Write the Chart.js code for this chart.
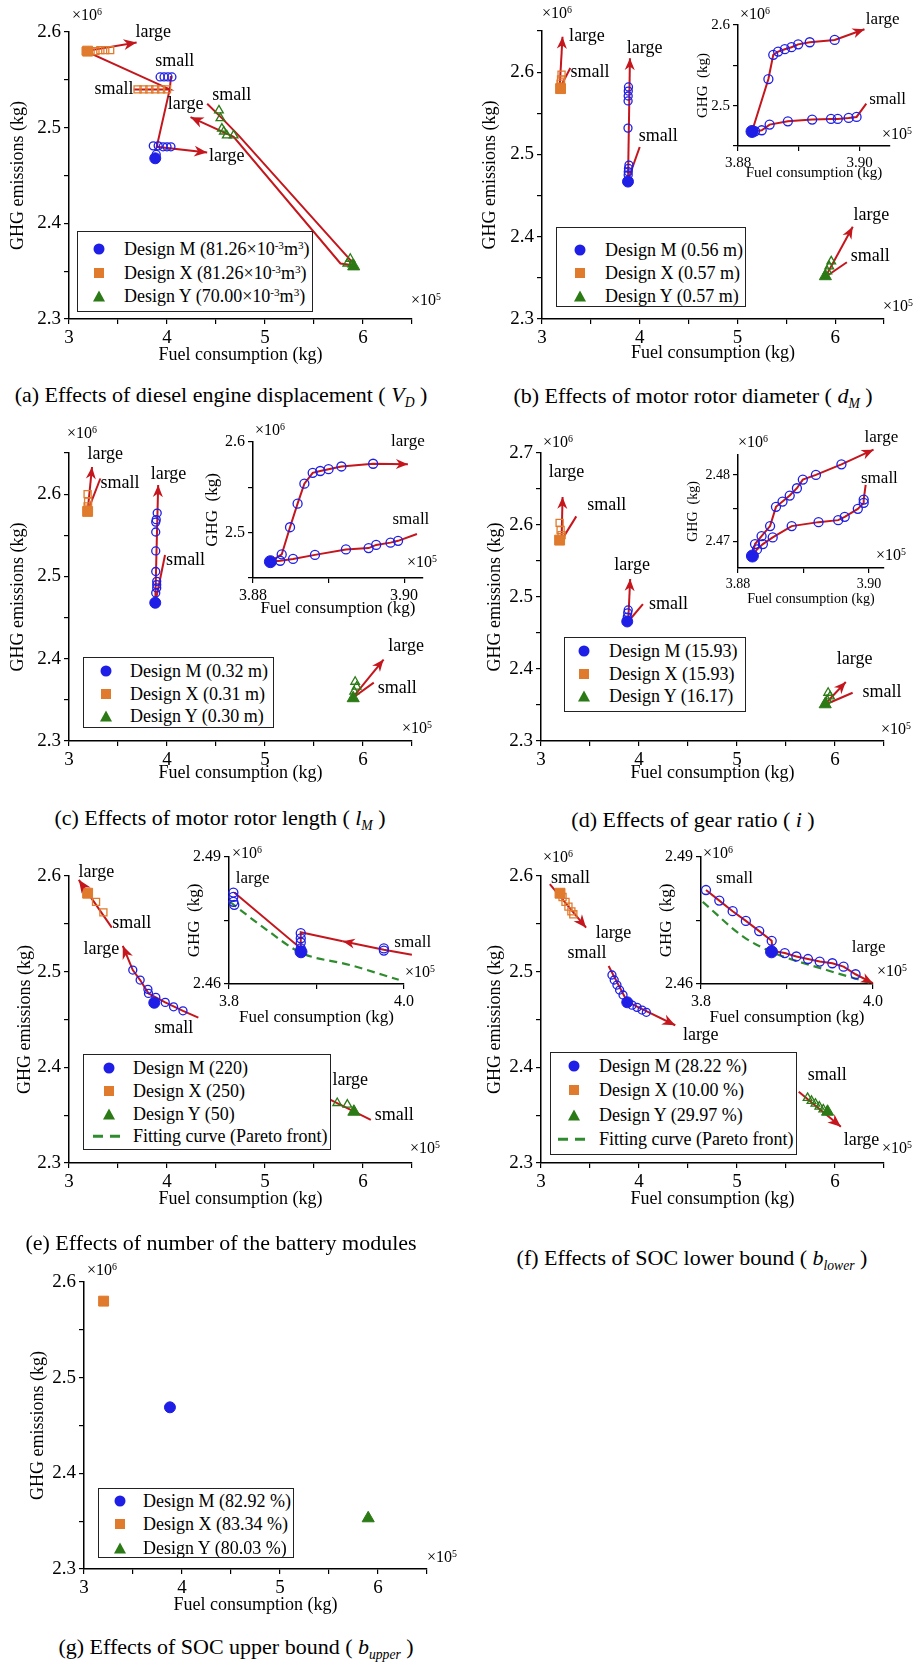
<!DOCTYPE html>
<html>
<head>
<meta charset="utf-8">
<title>GHG emissions vs fuel consumption</title>
<script src="https://cdn.jsdelivr.net/npm/chart.js@4.4.1/dist/chart.umd.min.js"></script>
<style>
  body { margin: 0; background: #fff; }
  #page { position: relative; width: 921px; height: 1662px; overflow: hidden; background: #fff;
          font-family: "Liberation Serif", "Times New Roman", serif; color: #000; }
  canvas { position: absolute; }
  .cap { position: absolute; font-size: 22px; white-space: nowrap; transform: translate(-50%, -50%); line-height: 1; }
  .mul { position: absolute; font-size: 16px; white-space: nowrap; transform: translateY(-50%); line-height: 1; }
  .leg { position: absolute; box-sizing: border-box; border: 1.6px solid #222; background: #fff; }
  .mk { position: absolute; transform: translate(-50%, -50%); }
  .lt { position: absolute; font-size: 18px; white-space: nowrap; transform: translateY(-50%); line-height: 1; }
  sup { font-size: 0.62em; vertical-align: 0.5em; line-height: 0; }
  sub { font-size: 0.62em; vertical-align: -0.35em; line-height: 0; }
  .mkM { width: 11px; height: 11px; border-radius: 50%; background: #1e1ee6; }
  .mkX { width: 10px; height: 10px; background: #e07a2c; }
  .mkY { width: 0; height: 0; border-left: 6.5px solid transparent; border-right: 6.5px solid transparent; border-bottom: 11px solid #2b7a16; }
  .mkF { width: 32px; height: 2.5px; background: repeating-linear-gradient(90deg, #2e8b2e 0 10px, transparent 10px 17px); }
</style>
</head>
<body>
<div id="page"></div>
<script>
// fuel in 1e5 kg, GHG in 1e6 kg. base points are [M, X, Y]

// (a) engine displacement
const aBase = [[3.88, 2.468], [3.19, 2.580], [5.905, 2.355]];
const aSweepM = [[3.93, 2.553], [3.97, 2.553], [4.01, 2.553], [4.05, 2.553], [3.86, 2.481], [3.91, 2.481], [3.96, 2.480], [4.00, 2.480], [4.04, 2.480], [3.89, 2.472]];
const aSweepX = [[3.17, 2.580], [3.22, 2.580], [3.27, 2.580], [3.32, 2.581], [3.37, 2.581], [3.42, 2.581], [3.70, 2.540], [3.76, 2.540], [3.82, 2.540], [3.88, 2.540], [3.94, 2.540], [4.00, 2.540]];
const aSweepY = [[4.53, 2.518], [4.545, 2.510], [4.56, 2.499], [4.58, 2.496], [4.61, 2.492], [4.68, 2.492], [5.84, 2.358], [5.87, 2.363], [5.89, 2.357]];
const aArrows = [
  [[3.66, 2.540], [4.03, 2.540], [3.17, 2.580], [3.69, 2.589]],
  [[4.04, 2.554], [4.03, 2.541], [3.895, 2.480], [4.41, 2.474]],
  [[4.41, 2.525], [4.56, 2.510], [4.73, 2.492], [5.92, 2.356], [5.77, 2.358], [4.68, 2.4905], [4.24, 2.511]]
];
const aNotes = [['large', 3.86, 2.600], ['small', 3.46, 2.540], ['small', 4.08, 2.569], ['large', 4.19, 2.524], ['small', 4.66, 2.534], ['large', 4.61, 2.470]];
const aLegend = ['Design M (81.26×10<sup>-3</sup>m<sup>3</sup>)', 'Design X (81.26×10<sup>-3</sup>m<sup>3</sup>)', 'Design Y (70.00×10<sup>-3</sup>m<sup>3</sup>)'];

// (b) rotor diameter
const bBase = [[3.88, 2.467], [3.19, 2.580], [5.90, 2.352]];
const bSweepM = [[3.885, 2.582], [3.883, 2.577], [3.882, 2.571], [3.881, 2.565], [3.88, 2.532], [3.89, 2.487], [3.885, 2.483], [3.883, 2.479], [3.882, 2.475]];
const bSweepX = [[3.19, 2.586], [3.195, 2.591], [3.20, 2.597]];
const bSweepY = [[5.92, 2.358], [5.94, 2.364], [5.96, 2.370]];
const bArrows = [[[3.18, 2.580], [3.21, 2.643]], [[3.88, 2.466], [3.90, 2.617]], [[5.90, 2.351], [6.18, 2.412]]];
const bLines = [[[3.18, 2.580], [3.29, 2.605]], [[3.88, 2.469], [4.00, 2.509]], [[5.90, 2.351], [6.12, 2.369]]];
const bNotes = [['large', 3.46, 2.643], ['small', 3.49, 2.600], ['large', 4.05, 2.629], ['small', 4.19, 2.522], ['large', 6.37, 2.426], ['small', 6.36, 2.376]];
const bInBase = [[3.8823, 2.468]];
const bInUp = [[3.8823, 2.468], [3.885, 2.533], [3.8858, 2.563], [3.8866, 2.567], [3.8877, 2.570], [3.8888, 2.5725], [3.8899, 2.576], [3.8918, 2.5786], [3.8959, 2.5815], [3.9008, 2.5947]];
const bInLow = [[3.8823, 2.468], [3.8828, 2.4683], [3.8839, 2.4695], [3.8852, 2.4765], [3.8882, 2.4806], [3.8922, 2.4827], [3.8953, 2.4836], [3.8964, 2.4836], [3.8982, 2.4848], [3.8995, 2.486], [3.9011, 2.5025]];
const bInNotes = [['large', 3.9038, 2.607], ['small', 3.9046, 2.507]];
const bLegend = ['Design M (0.56 m)', 'Design X (0.57 m)', 'Design Y (0.57 m)'];

// (c) rotor length
const cBase = [[3.88, 2.468], [3.19, 2.579], [5.90, 2.352]];
const cSweepM = [[3.90, 2.577], [3.89, 2.569], [3.885, 2.566], [3.885, 2.554], [3.885, 2.531], [3.885, 2.506], [3.895, 2.494], [3.895, 2.490], [3.895, 2.486], [3.885, 2.480]];
const cSweepX = [[3.19, 2.600], [3.195, 2.591], [3.19, 2.585]];
const cSweepY = [[5.92, 2.372], [5.935, 2.366], [5.91, 2.360]];
const cArrows = [[[3.19, 2.579], [3.235, 2.633]], [[3.88, 2.468], [3.91, 2.611]], [[5.89, 2.352], [6.21, 2.399]]];
const cLines = [[[3.19, 2.579], [3.32, 2.619]], [[3.88, 2.468], [3.98, 2.526]], [[5.89, 2.352], [6.11, 2.371]]];
const cNotes = [['large', 3.37, 2.648], ['small', 3.52, 2.6135], ['large', 4.015, 2.624], ['small', 4.19, 2.520], ['large', 6.44, 2.415], ['small', 6.35, 2.364]];
const cInBase = [[3.8823, 2.468]];
const cInUp = [[3.8823, 2.468], [3.8838, 2.476], [3.8849, 2.506], [3.8859, 2.532], [3.8868, 2.554], [3.8879, 2.566], [3.8889, 2.568], [3.890, 2.570], [3.8917, 2.573], [3.8959, 2.576], [3.9005, 2.5755]];
const cInLow = [[3.8823, 2.468], [3.8836, 2.469], [3.8853, 2.471], [3.8882, 2.4755], [3.8923, 2.4815], [3.8953, 2.483], [3.8963, 2.4865], [3.8982, 2.489], [3.8992, 2.491], [3.9017, 2.4985]];
const cInNotes = [['large', 3.9005, 2.600], ['small', 3.9009, 2.514]];
const cLegend = ['Design M (0.32 m)', 'Design X (0.31 m)', 'Design Y (0.30 m)'];

// (d) gear ratio
const dBase = [[3.88, 2.466], [3.19, 2.579], [5.90, 2.351]];
const dSweepM = [[3.885, 2.478], [3.89, 2.482], [3.88, 2.472]];
const dSweepX = [[3.19, 2.603], [3.20, 2.593], [3.21, 2.586]];
const dSweepY = [[5.93, 2.367], [5.95, 2.362], [5.92, 2.357]];
const dArrows = [[[3.21, 2.579], [3.22, 2.639]], [[3.89, 2.466], [3.91, 2.525]], [[5.89, 2.350], [6.11, 2.382]]];
const dLines = [[[3.21, 2.579], [3.36, 2.612]], [[3.89, 2.466], [4.04, 2.490]], [[5.89, 2.350], [6.18, 2.367]]];
const dNotes = [['large', 3.26, 2.673], ['small', 3.67, 2.628], ['large', 3.93, 2.544], ['small', 4.30, 2.490], ['large', 6.20, 2.414], ['small', 6.48, 2.368]];
const dInBase = [[3.8822, 2.4678]];
const dInUp = [[3.8822, 2.4678], [3.8826, 2.4696], [3.8836, 2.4708], [3.8849, 2.4723], [3.8858, 2.4752], [3.8868, 2.4760], [3.8879, 2.4769], [3.8890, 2.4780], [3.8899, 2.4793], [3.8919, 2.4800], [3.8958, 2.4816], [3.9007, 2.4838]];
const dInLow = [[3.8822, 2.4678], [3.8829, 2.4688], [3.8838, 2.4696], [3.8853, 2.4706], [3.8882, 2.4723], [3.8923, 2.4729], [3.8953, 2.4732], [3.8963, 2.4737], [3.8983, 2.4749], [3.8992, 2.4758], [3.8992, 2.4763], [3.8995, 2.4785]];
const dInNotes = [['large', 3.9019, 2.4857], ['small', 3.9016, 2.4794]];
const dLegend = ['Design M (15.93)', 'Design X (15.93)', 'Design Y (16.17)'];

// (e) battery modules
const eBase = [[3.87, 2.4675], [3.19, 2.582], [5.907, 2.3536]];
const eSweepM = [[3.651, 2.5017], [3.726, 2.4912], [3.805, 2.4815], [3.811, 2.4773], [3.886, 2.4731], [3.982, 2.4679], [4.067, 2.4633], [4.163, 2.4591]];
const eSweepX = [[3.276, 2.573], [3.351, 2.562]];
const eSweepY = [[5.737, 2.3627], [5.84, 2.361]];
const eArrows = [
  [[3.437, 2.546], [3.10, 2.596]],
  [[4.32, 2.452], [4.163, 2.4591], [3.982, 2.4679], [3.886, 2.4731], [3.811, 2.4773], [3.726, 2.4912], [3.651, 2.5017], [3.549, 2.527]],
  [[6.08, 2.345], [5.50, 2.3745]]
];
const eNotes = [['large', 3.28, 2.604], ['small', 3.64, 2.551], ['large', 3.33, 2.523], ['small', 4.07, 2.441], ['large', 5.87, 2.387], ['small', 6.32, 2.350]];
const eInBase = [[3.8823, 2.4676]];
const eInMarks = [[3.805, 2.4816], [3.805, 2.4806], [3.805, 2.4794], [3.806, 2.4787], [3.882, 2.4720], [3.882, 2.4708], [3.882, 2.4698], [3.882, 2.4684], [3.977, 2.4684], [3.977, 2.4679]];
const eInArrow = [[4.009, 2.4669], [3.977, 2.4681], [3.93, 2.4701]];
const eInPath = [[3.93, 2.4701], [3.882, 2.4722], [3.882, 2.4684], [3.806, 2.4816]];
const eInFit = [[3.801, 2.4794], [3.843, 2.4728], [3.882, 2.4674], [3.938, 2.4645], [3.994, 2.4610]];
const eInNotes = [['large', 3.827, 2.485], ['small', 4.01, 2.4697]];
const eLegend = ['Design M (220)', 'Design X (250)', 'Design Y (50)', 'Fitting curve (Pareto front)'];

// (f) SOC lower bound
const fBase = [[3.88, 2.468], [3.194, 2.582], [5.924, 2.3536]];
const fSweepM = [[3.724, 2.4965], [3.747, 2.4913], [3.775, 2.486], [3.802, 2.4808], [3.837, 2.4756], [3.929, 2.465], [3.98, 2.4627], [4.031, 2.4599], [4.075, 2.4575]];
const fSweepX = [[3.22, 2.578], [3.25, 2.573], [3.28, 2.568], [3.31, 2.563], [3.33, 2.560]];
const fSweepY = [[5.72, 2.368], [5.76, 2.365], [5.80, 2.362], [5.84, 2.359], [5.88, 2.356]];
const fArrows = [[[3.09, 2.5915], [3.46, 2.546]], [[3.69, 2.506], [3.88, 2.4685], [4.37, 2.444]], [[5.63, 2.3745], [6.06, 2.338]]];
const fNotes = [['small', 3.30, 2.5975], ['large', 3.74, 2.540], ['small', 3.47, 2.519], ['large', 4.63, 2.434], ['small', 5.92, 2.392], ['large', 6.27, 2.324]];
const fInBase = [[3.882, 2.4676]];
const fInMarks = [[3.8058, 2.4822], [3.8213, 2.4797], [3.8368, 2.4772], [3.8522, 2.4749], [3.8677, 2.4725], [3.8822, 2.4702], [3.8974, 2.4673], [3.9109, 2.4665], [3.9244, 2.4659], [3.9380, 2.4653], [3.9527, 2.4649], [3.9658, 2.4641], [3.9797, 2.4623]];
const fInArrow = [[3.8058, 2.4822], [3.8213, 2.4797], [3.8368, 2.4772], [3.8522, 2.4749], [3.8677, 2.4725], [3.8822, 2.4702], [3.8830, 2.4678], [3.8974, 2.4673], [3.9109, 2.4665], [3.9244, 2.4659], [3.9380, 2.4653], [3.9527, 2.4649], [3.9658, 2.4641], [3.9797, 2.4623], [3.9999, 2.4602]];
const fInFit = [[3.802, 2.4794], [3.849, 2.4712], [3.882, 2.4676], [3.946, 2.4633], [3.996, 2.4603]];
const fInNotes = [['small', 3.839, 2.485], ['large', 3.995, 2.4685]];
const fLegend = ['Design M (28.22 %)', 'Design X (10.00 %)', 'Design Y (29.97 %)', 'Fitting curve (Pareto front)'];

// (g) SOC upper bound
const gBase = [[3.877, 2.469], [3.20, 2.580], [5.90, 2.353]];
const gLegend = ['Design M (82.92 %)', 'Design X (83.34 %)', 'Design Y (80.03 %)'];

// ticks
const XT = [3, 3.5, 4, 4.5, 5, 5.5, 6, 6.5], XL = [3, 4, 5, 6];
const YT26 = [2.3, 2.35, 2.4, 2.45, 2.5, 2.55, 2.6];
const YT265 = [2.3, 2.35, 2.4, 2.45, 2.5, 2.55, 2.6, 2.65];
const YT27 = [2.3, 2.35, 2.4, 2.45, 2.5, 2.55, 2.6, 2.65, 2.7];
const YL = [2.3, 2.4, 2.5, 2.6, 2.7];
const ZXT = [3.88, 3.89, 3.90], ZXL = [3.88, 3.90];
const ZYT = [2.45, 2.5, 2.55, 2.6], ZYL = [2.5, 2.6];
const DYT = [2.47, 2.475, 2.48], DYL = [2.47, 2.48];
const PXT = [3.8, 3.9, 4.0], PXL = [3.8, 4.0];
const PYT = [2.46, 2.475, 2.49], PYL = [2.46, 2.49];

const SERIF = '"Liberation Serif", "Times New Roman", serif';
const BLUE = '#1e1ee6', ORANGE = '#e07a2c', GREEN = '#2b7a16', RED = '#c4161c', FIT = '#2e8b2e';
const page = document.getElementById('page');
const NOTES = new WeakMap();

const notesPlugin = {
  id: 'notes',
  afterDatasetsDraw(chart) {
    const cfg = NOTES.get(chart.canvas);
    const ctx = chart.ctx;
    chart.data.datasets.forEach((ds, i) => {
      if (!ds.arrow) return;
      const el = chart.getDatasetMeta(i).data;
      const a = el[el.length - 2], b = el[el.length - 1];
      const ang = Math.atan2(b.y - a.y, b.x - a.x);
      const len = cfg.head, wid = cfg.head * 0.42;
      const c = Math.cos(ang), s = Math.sin(ang);
      ctx.save();
      ctx.fillStyle = RED;
      ctx.beginPath();
      ctx.moveTo(b.x, b.y);
      ctx.lineTo(b.x - len * c + wid * s, b.y - len * s - wid * c);
      ctx.lineTo(b.x - len * 0.7 * c, b.y - len * 0.7 * s);
      ctx.lineTo(b.x - len * c - wid * s, b.y - len * s + wid * c);
      ctx.closePath();
      ctx.fill();
      ctx.restore();
    });
    ctx.save();
    ctx.font = cfg.size + 'px ' + SERIF;
    ctx.fillStyle = '#000';
    ctx.textAlign = 'center';
    ctx.textBaseline = 'middle';
    cfg.items.forEach(n => {
      ctx.fillText(n[0], chart.scales.x.getPixelForValue(n[1]), chart.scales.y.getPixelForValue(n[2]));
    });
    ctx.restore();
  }
};

function xy(a) { return a.map(p => ({x: p[0], y: p[1]})); }

function marks(a, shape, color, r, solid) {
  return {data: xy(a), showLine: false, clip: false, pointStyle: shape, pointRadius: r,
          pointBorderColor: color, pointBackgroundColor: solid ? color : 'rgba(255,255,255,0)',
          pointBorderWidth: solid ? 1 : 1.3};
}
function redPath(a, head) {
  return {data: xy(a), showLine: true, clip: false, borderColor: RED, borderWidth: 2,
          pointRadius: 0, tension: 0, arrow: head};
}
function fitPath(a) {
  return {data: xy(a), showLine: true, clip: false, borderColor: FIT, borderWidth: 2.2,
          borderDash: [8, 5], pointRadius: 0, cubicInterpolationMode: 'monotone'};
}

function mainSets(base, sm, sx, sy, arrows, lines) {
  return [
    marks([base[0]], 'circle', BLUE, 5.5, true),
    marks([base[1]], 'rect', ORANGE, 7, true),
    marks([base[2]], 'triangle', GREEN, 7, true),
    marks(sm, 'circle', BLUE, 4, false),
    marks(sx, 'rect', ORANGE, 5, false),
    marks(sy, 'triangle', GREEN, 5, false)
  ].concat(arrows.map(a => redPath(a, true)), lines.map(a => redPath(a, false)));
}
function insetSets(base, circles, arrows, lines, fits) {
  return [
    marks(base, 'circle', BLUE, 6, true),
    marks(circles, 'circle', BLUE, 4.5, false)
  ].concat(arrows.map(a => redPath(a, true)), lines.map(a => redPath(a, false)), fits.map(fitPath));
}

function axis(r, fs, title, tfs, tpad, size, horiz) {
  const [min, max, ticks, labels, dec] = r;
  return {
    type: 'linear', min: min, max: max,
    afterBuildTicks: s => { s.ticks = ticks.map(v => ({value: v})); },
    afterFit: s => {
      if (horiz) s.height = size; else s.width = size;
      s.paddingTop = 0; s.paddingBottom = 0; s.paddingLeft = 0; s.paddingRight = 0;
    },
    ticks: {autoSkip: false, maxRotation: 0, padding: 3, color: '#000', font: {family: SERIF, size: fs},
            callback: v => labels.some(l => Math.abs(l - v) < 1e-7) ? v.toFixed(dec) : ''},
    grid: {drawOnChartArea: false, drawTicks: true, tickLength: 5, color: '#000', lineWidth: 1.2},
    border: {color: '#000', width: 1.5},
    title: {display: true, text: title, color: '#000', font: {family: SERIF, size: tfs}, padding: tpad}
  };
}

function plot(o) {
  const [cx, cy, cw, ch] = o.box;
  const [L, T, R, B] = o.area;
  const cv = document.createElement('canvas');
  cv.width = cw; cv.height = ch;
  cv.style.left = cx + 'px'; cv.style.top = cy + 'px';
  cv.style.width = cw + 'px'; cv.style.height = ch + 'px';
  page.appendChild(cv);
  NOTES.set(cv, {items: o.notes, size: o.nfs, head: o.head});
  const half = o.tfs * 0.6;
  return new Chart(cv, {
    type: 'scatter',
    data: {datasets: o.sets},
    plugins: [notesPlugin],
    options: {
      responsive: false, animation: false, devicePixelRatio: 1, events: [],
      layout: {padding: {left: 0, top: T - cy, right: cx + cw - R, bottom: 0}},
      plugins: {legend: {display: false}, tooltip: {enabled: false}},
      scales: {
        x: axis(o.x, o.fs, o.xTitle, o.tfs, {top: 0, bottom: cy + ch - o.xTitleY - half}, cy + ch - B, true),
        y: axis(o.y, o.fs, o.yTitle, o.tfs, {top: o.yTitleX - cx - half, bottom: 0}, L - cx, false)
      }
    }
  });
}

const FUEL = 'Fuel consumption (kg)', GHG = 'GHG emissions (kg)', GHGS = 'GHG  (kg)';

// main panels
plot({box: [0, 0, 460, 372], area: [69, 32, 412, 319], x: [3, 6.5, XT, XL, 0], y: [2.3, 2.6, YT26, YL, 1],
      fs: 19, tfs: 18, xTitle: FUEL, yTitle: GHG, xTitleY: 355, yTitleX: 18,
      sets: mainSets(aBase, aSweepM, aSweepX, aSweepY, aArrows, []), notes: aNotes, nfs: 18, head: 13});
plot({box: [460, 0, 461, 372], area: [542, 31, 884, 319], x: [3, 6.5, XT, XL, 0], y: [2.3, 2.65, YT265, YL, 1],
      fs: 19, tfs: 18, xTitle: FUEL, yTitle: GHG, xTitleY: 353, yTitleX: 490,
      sets: mainSets(bBase, bSweepM, bSweepX, bSweepY, bArrows, bLines), notes: bNotes, nfs: 18, head: 12});
plot({box: [0, 425, 460, 370], area: [69, 453, 412, 741], x: [3, 6.5, XT, XL, 0], y: [2.3, 2.65, YT265, YL, 1],
      fs: 19, tfs: 18, xTitle: FUEL, yTitle: GHG, xTitleY: 773, yTitleX: 18,
      sets: mainSets(cBase, cSweepM, cSweepX, cSweepY, cArrows, cLines), notes: cNotes, nfs: 18, head: 12});
plot({box: [460, 425, 461, 370], area: [541, 453, 884, 741], x: [3, 6.5, XT, XL, 0], y: [2.3, 2.7, YT27, YL, 1],
      fs: 19, tfs: 18, xTitle: FUEL, yTitle: GHG, xTitleY: 773, yTitleX: 495,
      sets: mainSets(dBase, dSweepM, dSweepX, dSweepY, dArrows, dLines), notes: dNotes, nfs: 18, head: 12});
plot({box: [0, 845, 460, 375], area: [69, 876, 412, 1163], x: [3, 6.5, XT, XL, 0], y: [2.3, 2.6, YT26, YL, 1],
      fs: 19, tfs: 18, xTitle: FUEL, yTitle: GHG, xTitleY: 1199, yTitleX: 25,
      sets: mainSets(eBase, eSweepM, eSweepX, eSweepY, eArrows, []), notes: eNotes, nfs: 18, head: 13});
plot({box: [460, 845, 461, 375], area: [541, 876, 884, 1163], x: [3, 6.5, XT, XL, 0], y: [2.3, 2.6, YT26, YL, 1],
      fs: 19, tfs: 18, xTitle: FUEL, yTitle: GHG, xTitleY: 1199, yTitleX: 495,
      sets: mainSets(fBase, fSweepM, fSweepX, fSweepY, fArrows, []), notes: fNotes, nfs: 18, head: 13});
plot({box: [0, 1255, 460, 370], area: [84, 1282, 427, 1569], x: [3, 6.5, XT, XL, 0], y: [2.3, 2.6, YT26, YL, 1],
      fs: 19, tfs: 18, xTitle: FUEL, yTitle: GHG, xTitleY: 1605, yTitleX: 38,
      sets: mainSets(gBase, [], [], [], [], []), notes: [], nfs: 18, head: 13});

// insets
plot({box: [680, 0, 241, 185], area: [738, 25, 890, 146], x: [3.88, 3.905, ZXT, ZXL, 2], y: [2.45, 2.6, ZYT, ZYL, 1],
      fs: 15, tfs: 15, xTitle: FUEL, yTitle: GHGS, xTitleY: 173, yTitleX: 703,
      sets: insetSets(bInBase, bInUp.slice(1, -1).concat(bInLow.slice(1, -1)), [bInUp], [bInLow], []),
      notes: bInNotes, nfs: 17, head: 12});
plot({box: [195, 410, 265, 215], area: [253, 442, 423, 578], x: [3.88, 3.9025, ZXT, ZXL, 2], y: [2.45, 2.6, ZYT, ZYL, 1],
      fs: 16, tfs: 17, xTitle: FUEL, yTitle: GHGS, xTitleY: 609, yTitleX: 213,
      sets: insetSets(cInBase, cInUp.slice(1, -1).concat(cInLow.slice(1, -1)), [cInUp], [cInLow], []),
      notes: cInNotes, nfs: 17, head: 12});
plot({box: [680, 430, 241, 185], area: [738, 455, 884, 568], x: [3.88, 3.9023, ZXT, ZXL, 2], y: [2.466, 2.483, DYT, DYL, 2],
      fs: 14, tfs: 14, xTitle: FUEL, yTitle: GHGS, xTitleY: 599, yTitleX: 693,
      sets: insetSets(dInBase, dInUp.slice(1, -1).concat(dInLow.slice(1, -1)), [dInUp], [dInLow], []),
      notes: dInNotes, nfs: 17, head: 12});
plot({box: [180, 835, 280, 200], area: [229, 857, 404, 984], x: [3.8, 4.0, PXT, PXL, 1], y: [2.46, 2.49, PYT, PYL, 2],
      fs: 16, tfs: 17, xTitle: FUEL, yTitle: GHGS, xTitleY: 1018, yTitleX: 195,
      sets: insetSets(eInBase, eInMarks, [eInArrow], [eInPath], [eInFit]),
      notes: eInNotes, nfs: 17, head: 12});
plot({box: [650, 835, 271, 200], area: [701, 857, 873, 984], x: [3.8, 4.0, PXT, PXL, 1], y: [2.46, 2.49, PYT, PYL, 2],
      fs: 16, tfs: 17, xTitle: FUEL, yTitle: GHGS, xTitleY: 1018, yTitleX: 667,
      sets: insetSets(fInBase, fInMarks, [fInArrow], [], [fInFit]),
      notes: fInNotes, nfs: 17, head: 12});

// legends, multipliers, captions
function legend(x, y, w, h, rows, mx, tx, r0, gap) {
  const d = document.createElement('div');
  d.className = 'leg';
  d.style.cssText = `left:${x}px;top:${y}px;width:${w}px;height:${h}px`;
  const kinds = ['M', 'X', 'Y', 'F'];
  rows.forEach((t, k) => {
    const cy = r0 + k * gap;
    const m = document.createElement('span');
    m.className = 'mk mk' + kinds[k];
    m.style.left = mx + 'px'; m.style.top = cy + 'px';
    d.appendChild(m);
    const s = document.createElement('span');
    s.className = 'lt';
    s.innerHTML = t;
    s.style.left = tx + 'px'; s.style.top = cy + 'px';
    d.appendChild(s);
  });
  page.appendChild(d);
}
legend(77, 231, 236, 81, aLegend, 21, 46, 17, 23.5);
legend(556, 227, 190, 80, bLegend, 23, 48, 22, 23);
legend(83, 657, 191, 71, cLegend, 22, 46, 13, 22.5);
legend(564, 637, 182, 75, dLegend, 19, 44, 13, 22.5);
legend(83, 1054, 248, 96, eLegend, 25, 49, 13, 22.8);
legend(550, 1052, 247, 103, fLegend, 23, 48, 13, 24.4);
legend(98, 1488, 196, 70, gLegend, 21, 44, 12, 23.3);

function mul(x, y, e) {
  const s = document.createElement('span');
  s.className = 'mul';
  s.innerHTML = '×10<sup>' + e + '</sup>';
  s.style.left = x + 'px'; s.style.top = y + 'px';
  page.appendChild(s);
}
[[72, 15, 6], [411, 300, 5], [542, 13, 6], [883, 306, 5], [740, 14, 6], [882, 134, 5],
 [67, 433, 6], [402, 728, 5], [255, 430, 6], [407, 562, 5],
 [543, 442, 6], [881, 729, 5], [738, 442, 6], [876, 555, 5],
 [410, 1148, 5], [232, 853, 6], [405, 972, 5],
 [543, 857, 6], [882, 1148, 5], [703, 853, 6], [877, 971, 5],
 [87, 1270, 6], [427, 1557, 5]].forEach(m => mul(m[0], m[1], m[2]));

function cap(html, x, y) {
  const s = document.createElement('div');
  s.className = 'cap';
  s.innerHTML = html;
  s.style.left = x + 'px'; s.style.top = y + 'px';
  page.appendChild(s);
}
cap('(a) Effects of diesel engine displacement ( <i>V<sub>D</sub></i> )', 221, 395);
cap('(b) Effects of motor rotor diameter ( <i>d<sub>M</sub></i> )', 693, 396);
cap('(c) Effects of motor rotor length ( <i>l<sub>M</sub></i> )', 220, 818);
cap('(d) Effects of gear ratio ( <i>i</i> )', 693, 820);
cap('(e) Effects of number of the battery modules', 221, 1243);
cap('(f) Effects of SOC lower bound ( <i>b<sub>lower</sub></i> )', 692, 1258);
cap('(g) Effects of SOC upper bound ( <i>b<sub>upper</sub></i> )', 236, 1647);
</script>
</body>
</html>
